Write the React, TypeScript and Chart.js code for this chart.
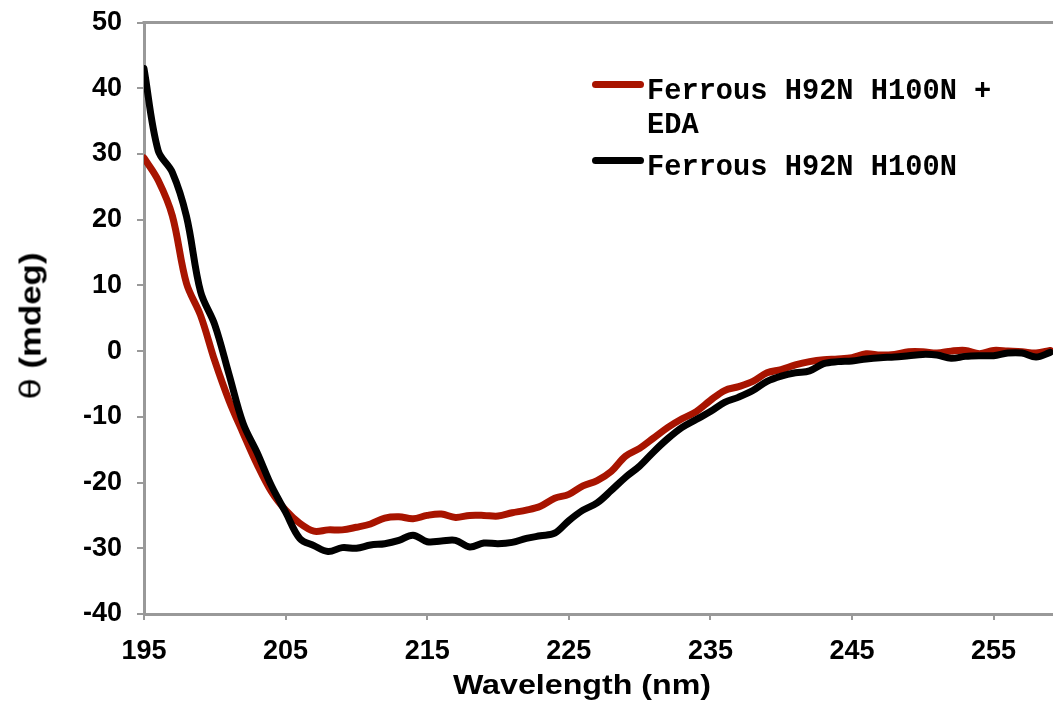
import React, { useEffect, useRef } from "react";
import { Chart, registerables } from "chart.js";

Chart.register(...registerables);

const wavelengths = [
  195, 196, 197, 198, 199, 200, 201, 202, 203, 204,
  205, 206, 207, 208, 209, 210, 211, 212, 213, 214,
  215, 216, 217, 218, 219, 220, 221, 222, 223, 224,
  225, 226, 227, 228, 229, 230, 231, 232, 233, 234,
  235, 236, 237, 238, 239, 240, 241, 242, 243, 244,
  245, 246, 247, 248, 249, 250, 251, 252, 253, 254,
  255, 256, 257, 258, 259,
];

const ferrousEda = [
  29.4, 26.0, 20.6, 10.3, 5.4, -1.5, -7.5, -12.5, -17.3, -21.4,
  -24.2, -26.2, -27.4, -27.2, -27.2, -26.8, -26.3, -25.4, -25.2, -25.5,
  -25.0, -24.8, -25.3, -25.0, -25.0, -25.1, -24.6, -24.2, -23.6, -22.4,
  -21.8, -20.5, -19.7, -18.3, -16.0, -14.8, -13.2, -11.6, -10.3, -9.2,
  -7.5, -6.0, -5.4, -4.6, -3.3, -2.8, -2.1, -1.6, -1.3, -1.2,
  -1.0, -0.4, -0.6, -0.5, -0.1, -0.1, -0.3, 0.0, 0.1, -0.4,
  0.1, 0.0, -0.1, -0.3, 0.1,
];

const ferrous = [
  43.0, 30.5, 27.2, 20.5, 9.0, 4.0, -3.5, -11.0, -15.5, -20.5,
  -24.5, -28.5, -29.6, -30.5, -29.9, -30.0, -29.5, -29.3, -28.8, -28.0,
  -29.0, -28.9, -28.8, -29.8, -29.2, -29.3, -29.1, -28.5, -28.1, -27.7,
  -25.8, -24.2, -23.1, -21.2, -19.2, -17.5, -15.3, -13.3, -11.6, -10.4,
  -9.2, -7.8, -7.0, -6.0, -4.6, -3.8, -3.3, -3.0, -1.9, -1.6,
  -1.5, -1.2, -1.0, -0.9, -0.7, -0.5, -0.6, -1.1, -0.8, -0.7,
  -0.7, -0.3, -0.3, -0.9, -0.2,
];

const xTickValues = [195, 205, 215, 225, 235, 245, 255];
const xMin = 195;
const xMax = 260;
const yMin = -40;
const yMax = 50;
const yStep = 10;

const seriesLabels = ["Ferrous H92N H100N + EDA", "Ferrous H92N H100N"];
const seriesColors = ["#A81400", "#000000"];

const xTitle = "Wavelength (nm)";
const yTitleSymbol = "\u03b8";
const yTitleUnit = "(mdeg)";

const AXIS_GRAY = "#999999";
const SANS = '"Liberation Sans", Arial, Helvetica, sans-serif';
const MONO = '"Courier New", "Liberation Mono", monospace';

const frameLines = {
  id: "frameLines",
  afterDraw(chart: any) {
    const { ctx, chartArea } = chart;
    ctx.save();
    ctx.strokeStyle = AXIS_GRAY;
    ctx.lineWidth = 3;
    ctx.beginPath();
    ctx.moveTo(chartArea.left - 1.5, chartArea.top);
    ctx.lineTo(chartArea.right, chartArea.top);
    ctx.lineTo(chartArea.right, chartArea.bottom);
    ctx.stroke();
    ctx.restore();
  },
};

export default function App() {
  const canvasRef = useRef<HTMLCanvasElement | null>(null);

  useEffect(() => {
    const canvas = canvasRef.current;
    if (!canvas) return;
    const series = [ferrousEda, ferrous];
    const chart = new Chart(canvas, {
      type: "line",
      data: {
        datasets: series.map((vals, i) => ({
          label: seriesLabels[i],
          data: wavelengths.map((w, j) => ({ x: w, y: vals[j] })),
          borderColor: seriesColors[i],
          backgroundColor: seriesColors[i],
          borderWidth: 7,
          pointRadius: 0,
          tension: 0.35,
          fill: false,
          order: i === 0 ? 1 : 0,
          borderCapStyle: "round",
          borderJoinStyle: "round",
        })),
      },
      options: {
        responsive: false,
        animation: false,
        devicePixelRatio: 1,
        layout: { padding: { top: 22.5, right: 15.6, left: 0, bottom: 0 } },
        plugins: {
          legend: { display: false },
          tooltip: { enabled: false },
        },
        scales: {
          x: {
            type: "linear",
            min: xMin,
            max: xMax,
            afterBuildTicks: (scale: any) => {
              scale.ticks = xTickValues.map((v) => ({ value: v }));
            },
            afterFit: (scale: any) => {
              scale.height = 103;
              scale.paddingLeft = 0;
              scale.paddingRight = 0;
            },
            grid: {
              drawOnChartArea: false,
              drawTicks: true,
              tickLength: 6,
              color: AXIS_GRAY,
              lineWidth: 2,
            },
            border: { color: AXIS_GRAY, width: 3 },
            ticks: {
              padding: 15,
              color: "#000",
              font: { family: SANS, size: 27, weight: "bold" },
              maxRotation: 0,
              autoSkip: false,
            },
            title: { display: false, text: xTitle },
          },
          y: {
            type: "linear",
            min: yMin,
            max: yMax,
            afterFit: (scale: any) => {
              scale.width = 144;
              scale.paddingTop = 0;
              scale.paddingBottom = 0;
            },
            grid: {
              drawOnChartArea: false,
              drawTicks: true,
              tickLength: 7,
              color: AXIS_GRAY,
              lineWidth: 2,
            },
            border: { color: AXIS_GRAY, width: 3 },
            ticks: {
              stepSize: yStep,
              padding: 15,
              color: "#000",
              font: { family: SANS, size: 27, weight: "bold" },
            },
            title: { display: false },
          },
        },
      },
      plugins: [frameLines],
    } as any);
    return () => chart.destroy();
  }, []);

  const legendTop = [74.5, 150.5];

  return (
    <div
      style={{
        position: "absolute",
        left: 0,
        top: 0,
        width: 1053,
        height: 717,
        overflow: "hidden",
        background: "#fff",
      }}
    >
      <canvas
        ref={canvasRef}
        width={1080}
        height={717}
        style={{ display: "block", width: 1080, height: 717 }}
      />
      <div
        style={{
          position: "absolute",
          left: 582,
          top: 685,
          transform: "translate(-50%, -50%) scaleX(1.15)",
          whiteSpace: "nowrap",
          fontFamily: SANS,
          fontWeight: "bold",
          fontSize: 28,
          lineHeight: "28px",
          color: "#000",
        }}
      >
        {xTitle}
      </div>
      <div
        style={{
          position: "absolute",
          left: 31,
          top: 326,
          transform: "translate(-50%, -50%) rotate(-90deg) scaleX(1.2)",
          whiteSpace: "nowrap",
          fontFamily: SANS,
          fontWeight: "bold",
          fontSize: 29,
          lineHeight: "29px",
          color: "#000",
        }}
      >
        <span style={{ fontWeight: "normal", fontFamily: '"DejaVu Sans", sans-serif' }}>
          {yTitleSymbol}
        </span>{" "}
        {yTitleUnit}
      </div>
      {seriesLabels.map((label, i) => (
        <div
          key={label}
          style={{
            position: "absolute",
            left: 592,
            top: legendTop[i],
            display: "flex",
            alignItems: "flex-start",
          }}
        >
          <div
            style={{
              width: 52,
              height: 7,
              borderRadius: 4,
              background: seriesColors[i],
              marginTop: 6,
              marginRight: 3,
              flex: "0 0 auto",
            }}
          />
          <div
            style={{
              width: 375,
              fontFamily: MONO,
              fontWeight: "bold",
              fontSize: 28.7,
              lineHeight: "34px",
              color: "#000",
            }}
          >
            {label}
          </div>
        </div>
      ))}
    </div>
  );
}
